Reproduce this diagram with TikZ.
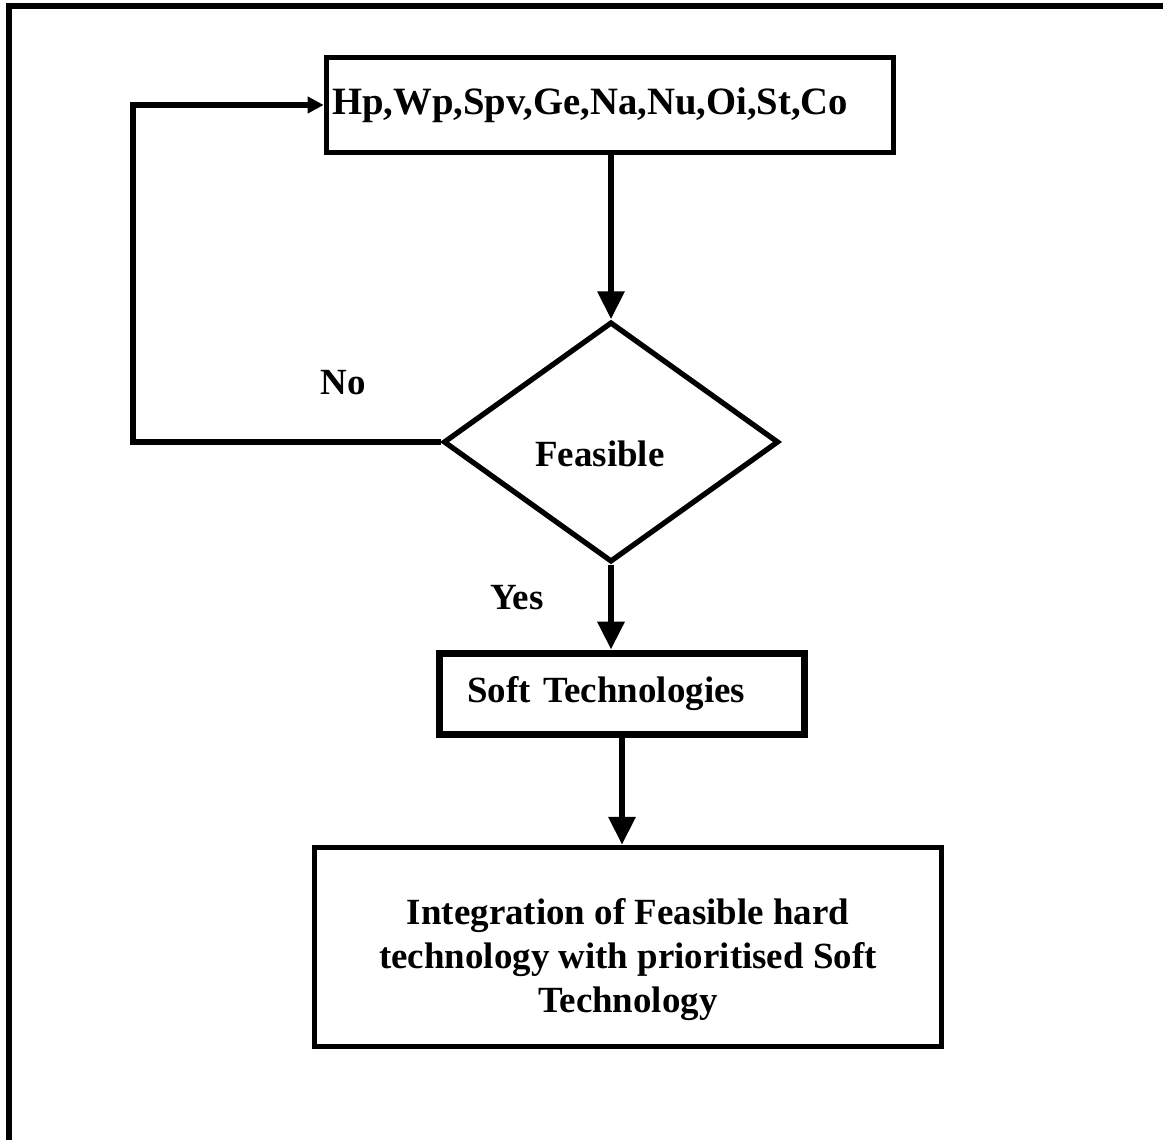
\documentclass[tikz,border=0pt]{standalone}
\usepackage{fontspec}
\setmainfont{Liberation Serif}
\usepackage{tikz}
\usetikzlibrary{arrows.meta,shapes.geometric}
\tikzset{
  flowbox/.style={rectangle,draw=black,line width=1.5pt,inner sep=0pt,font=\fontsize{10.5}{12.6}\selectfont\bfseries},
  decide/.style={diamond,draw=black,line width=1.5pt,inner sep=0pt,font=\fontsize{10.5}{13}\selectfont\bfseries},
  tag/.style={font=\fontsize{10.5}{13}\selectfont\bfseries},
  edge/.style={-{Triangle[length=2.8mm,width=2.6mm]},line width=1.8pt},
  loopedge/.style={-{Triangle[length=1.6mm,width=1.6mm]},line width=1.5pt},
  frame/.style={line width=1.8pt}
}
\begin{document}
\begin{tikzpicture}[x=0.01cm,y=-0.01cm]
  \useasboundingbox (0,0) rectangle (1163,1140);
  \draw[frame] (9,1140) -- (9,6) -- (1163,6);
  \node[flowbox,font=\fontsize{11}{13}\selectfont\bfseries,minimum width=5.67cm,minimum height=0.95cm,text width=5.55cm,align=left] (params) at (610,105) {Hp,Wp,Spv,Ge,Na,Nu,Oi,St,Co};
  \node[decide,minimum width=3.35cm,minimum height=2.4cm] (feas) at (611,442) {\raisebox{-0.13cm}[1.6ex][0.3ex]{Feasible}\hspace*{0.22cm}};
  \node[flowbox,line width=2.2pt,minimum width=3.65cm,minimum height=0.81cm,text width=3.09cm,align=left] (soft) at (622,694) {Soft Technologies};
  \node[flowbox,minimum width=6.26cm,minimum height=1.99cm,align=center] (integ) at (628,947) {\rule{0pt}{3ex}Integration of Feasible hard\\technology with prioritised Soft\\Technology};
  \coordinate (backturn) at (133,0);
  \node[tag] (nolbl) at (343,383) {No};
  \node[tag] (yeslbl) at (517,598) {Yes};
  \draw[edge] (params.south -| feas.north) -- (feas.north);
  \draw[edge] (feas.south) -- (feas.south |- soft.north);
  \draw[edge] (soft.south) -- (soft.south |- integ.north);
  \draw[loopedge] (feas.west) -| (backturn |- params.west) -- (params.west);
\end{tikzpicture}
\end{document}
